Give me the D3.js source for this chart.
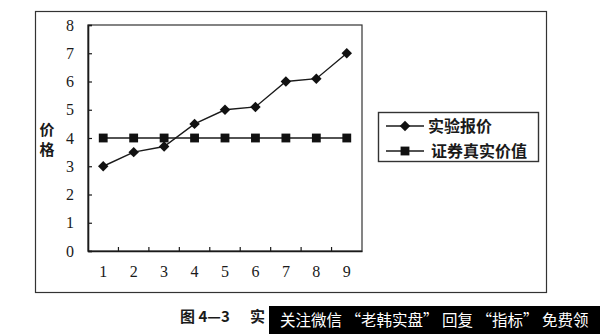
<!DOCTYPE html>
<html>
<head>
<meta charset="utf-8">
<script src="https://cdn.jsdelivr.net/npm/d3@7"></script>
<style>
  html, body { margin: 0; padding: 0; background: #fff; }
  svg { display: block; }
</style>
</head>
<body>
<div id="chart"></div>
<script>
// --- data ---
const categories = ['1', '2', '3', '4', '5', '6', '7', '8', '9'];
const bidValues  = [3, 3.5, 3.7, 4.5, 5, 5.1, 6, 6.1, 7];     // 实验报价
const trueValues = [4, 4, 4, 4, 4, 4, 4, 4, 4];                 // 证券真实价值
const yTicks     = [0, 1, 2, 3, 4, 5, 6, 7, 8];
const seriesNames = ['实验报价', '证券真实价值'];

const W = 600, H = 334;
const m = { l: 88, r: 238, t: 25, b: 83 };   // plot area 88..362 x 25..251
const w = W - m.l - m.r, h = H - m.t - m.b;
const ink = '#1a1a1a';
const serif = '"Liberation Serif", "DejaVu Serif", serif';
const cjk = '"Noto Sans CJK SC", "Noto Sans", sans-serif';

const svg = d3.select('#chart').append('svg')
  .attr('width', W).attr('height', H).attr('viewBox', `0 0 ${W} ${H}`);

// outer chart frame
svg.append('rect').attr('x', 35.5).attr('y', 11.5).attr('width', 511).attr('height', 281)
  .attr('fill', 'none').attr('stroke', '#333').attr('stroke-width', 1.2);

const g = svg.append('g').attr('transform', `translate(${m.l},${m.t})`);

const x = d3.scaleBand().domain(categories).range([0, w]);
const y = d3.scaleLinear().domain([0, 8]).range([h, 0]);
const cx = d => x(d) + x.bandwidth() / 2;

// plot-area border
g.append('rect').attr('x', 0).attr('y', 0).attr('width', w).attr('height', h)
  .attr('fill', 'none').attr('stroke', '#333').attr('stroke-width', 1.2);

// y axis: ticks point inward
const ya = g.append('g')
  .call(d3.axisLeft(y).tickValues(yTicks).tickSize(-4).tickPadding(14).tickFormat(d3.format('d')));
ya.select('.domain').attr('stroke', ink).attr('stroke-width', 1.6);
ya.selectAll('.tick line').attr('stroke', ink).attr('stroke-width', 1.2);
ya.selectAll('.tick text').attr('font-family', serif).attr('font-size', 16).attr('fill', ink);

// x axis: category labels centred, ticks on band boundaries
const xa = g.append('g').attr('transform', `translate(0,${h})`)
  .call(d3.axisBottom(x).tickSize(0).tickPadding(15));
xa.select('.domain').attr('stroke', ink).attr('stroke-width', 1.6);
xa.selectAll('.tick text').attr('font-family', serif).attr('font-size', 16).attr('fill', ink);
g.append('g').selectAll('line').data(categories.slice(1)).join('line')
  .attr('x1', d => x(d)).attr('x2', d => x(d))
  .attr('y1', h).attr('y2', h - 4)
  .attr('stroke', ink).attr('stroke-width', 1.2);

// y axis title, stacked vertically
svg.append('g').selectAll('text').data(['价', '格']).join('text')
  .attr('x', 47).attr('y', (d, i) => 135 + i * 20)
  .attr('text-anchor', 'middle')
  .attr('font-family', cjk).attr('font-weight', 700).attr('font-size', 15).attr('fill', ink)
  .text(d => d);

const diamond = d3.symbol().type(d3.symbolDiamond2).size(70);
const square  = d3.symbol().type(d3.symbolSquare).size(78);

const line = d3.line().x((d, i) => cx(categories[i])).y(d => y(d));

// true value series (squares)
g.append('path').datum(trueValues)
  .attr('fill', 'none').attr('stroke', ink).attr('stroke-width', 1.4).attr('d', line);
g.append('g').selectAll('path').data(trueValues).join('path')
  .attr('transform', (d, i) => `translate(${cx(categories[i])},${y(d)})`)
  .attr('d', square).attr('fill', '#111');

// bid series (diamonds)
g.append('path').datum(bidValues)
  .attr('fill', 'none').attr('stroke', ink).attr('stroke-width', 1.4).attr('d', line);
g.append('g').selectAll('path').data(bidValues).join('path')
  .attr('transform', (d, i) => `translate(${cx(categories[i])},${y(d)})`)
  .attr('d', diamond).attr('fill', '#111');

// legend
const leg = svg.append('g');
leg.append('rect').attr('x', 378.5).attr('y', 112.5).attr('width', 160).attr('height', 49)
  .attr('fill', '#fff').attr('stroke', '#333').attr('stroke-width', 1.4);
[diamond, square].forEach((sym, i) => {
  const ly = 126 + i * 25;
  leg.append('line').attr('x1', 386).attr('x2', 424).attr('y1', ly).attr('y2', ly)
    .attr('stroke', ink).attr('stroke-width', 1.4);
  leg.append('path').attr('transform', `translate(405,${ly})`).attr('d', sym).attr('fill', '#111');
  leg.append('text').attr('x', 428 + i * 3).attr('y', ly + 6)
    .attr('font-family', cjk).attr('font-weight', 700).attr('font-size', 16).attr('fill', ink)
    .text(seriesNames[i]);
});

// caption (mostly hidden under the watermark bar)
svg.append('text').attr('x', 180).attr('y', 322)
  .attr('font-family', cjk).attr('font-weight', 700).attr('font-size', 15).attr('fill', ink)
  .text('图 4—3');
svg.append('text').attr('x', 250).attr('y', 322)
  .attr('font-family', cjk).attr('font-weight', 700).attr('font-size', 15).attr('fill', ink)
  .text('实');

// watermark bar
svg.append('rect').attr('x', 269).attr('y', 306).attr('width', 331).attr('height', 28).attr('fill', '#000');
svg.append('text').attr('x', 280).attr('y', 326)
  .attr('font-family', cjk).attr('font-size', 15.5).attr('fill', '#fff')
  .text('关注微信 “老韩实盘” 回复 “指标” 免费领');
</script>
</body>
</html>
